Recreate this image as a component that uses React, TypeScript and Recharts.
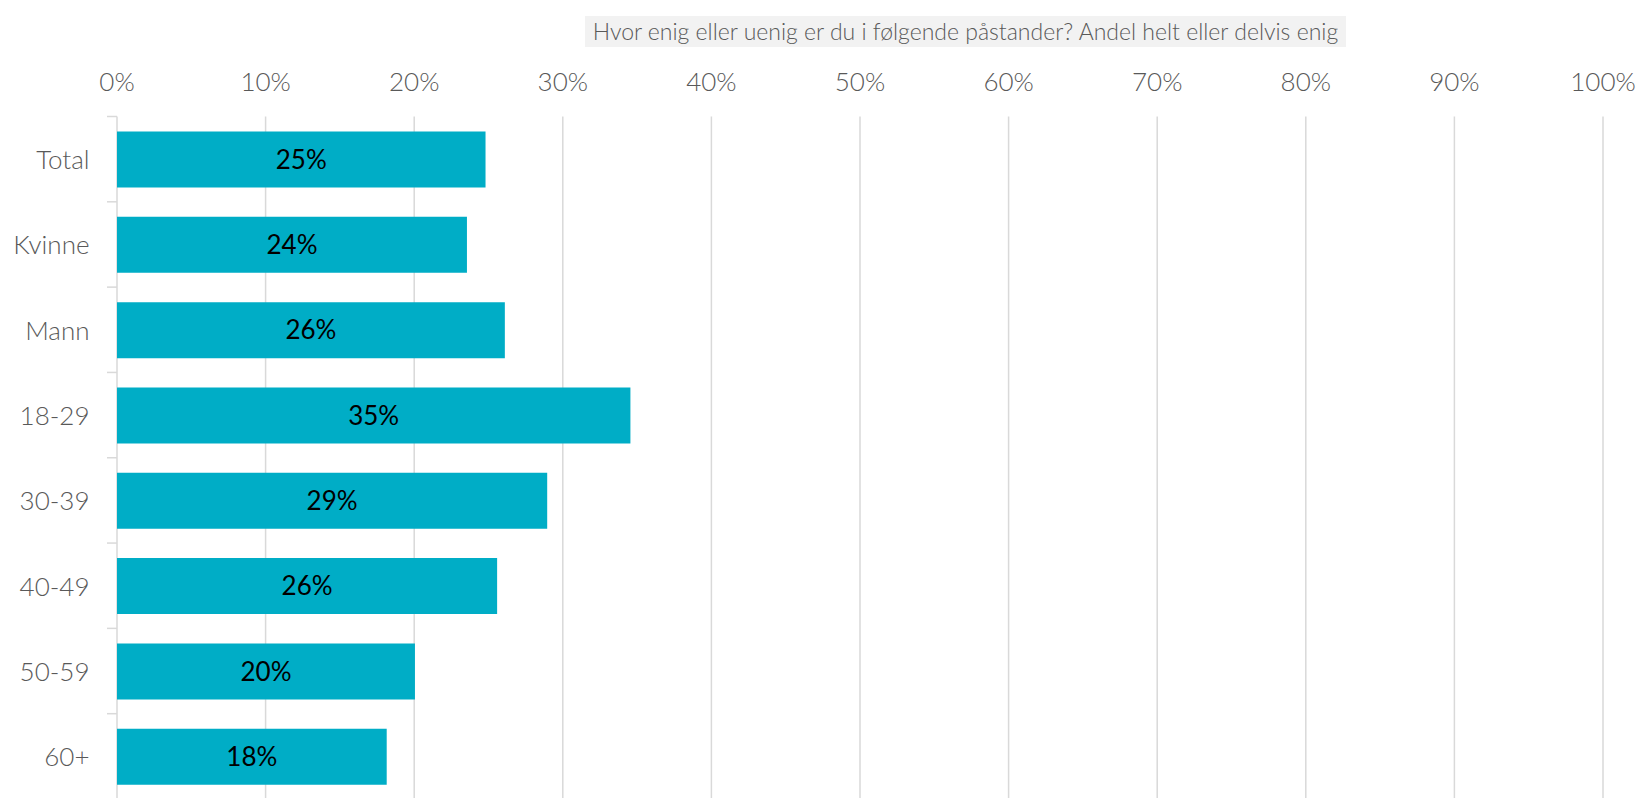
import React from 'react';
import { Bar, BarChart, CartesianGrid, LabelList, XAxis, YAxis } from 'recharts';

const categories = ['Total', 'Kvinne', 'Mann', '18-29', '30-39', '40-49', '50-59', '60+'];
const shares = [0.248, 0.2355, 0.261, 0.3455, 0.2895, 0.2558, 0.2005, 0.1815];
const xTicks = [0, 0.1, 0.2, 0.3, 0.4, 0.5, 0.6, 0.7, 0.8, 0.9, 1];
const title = 'Hvor enig eller uenig er du i følgende påstander? Andel helt eller delvis enig';

const data = categories.map((name, i) => ({ name, value: shares[i] }));

const WIDTH = 1636;
const HEIGHT = 800;
const PLOT_LEFT = 117;
const PLOT_TOP = 116.5;
const MARGIN_BOTTOM = 1;
const BAND = (HEIGHT - PLOT_TOP - MARGIN_BOTTOM) / categories.length;

const FONT = 'Lato, Carlito, Calibri, "Open Sans", sans-serif';
const GRAY = '#595959';
const GRID = '#d9d9d9';

const pct = (v: number) => `${Math.round(v * 100)}%`;

function CategoryTick(props: any) {
  const { x, y, payload, index } = props;
  const half = BAND / 2;
  return (
    <g>
      <text
        x={x - 27.5}
        y={y}
        textAnchor="end"
        dominantBaseline="central"
        fontFamily={FONT}
        fontWeight={300}
        fontSize={26}
        fill={GRAY}
      >
        {payload.value}
      </text>
      <line x1={PLOT_LEFT - 10} x2={PLOT_LEFT} y1={y - half} y2={y - half} stroke={GRID} strokeWidth={1.5} />
      {index === categories.length - 1 && (
        <line x1={PLOT_LEFT - 10} x2={PLOT_LEFT} y1={y + half} y2={y + half} stroke={GRID} strokeWidth={1.5} />
      )}
    </g>
  );
}

export default function App() {
  return (
    <div style={{ position: 'relative', width: WIDTH, height: 798, overflow: 'hidden', background: '#fff' }}>
      <style>{'body{margin:0;}'}</style>
      <div
        style={{
          position: 'absolute',
          left: 585,
          top: 16,
          width: 761,
          height: 31,
          background: '#f2f2f2',
          color: GRAY,
          fontFamily: FONT,
          fontWeight: 300,
          fontSize: 23,
          lineHeight: '31px',
          textAlign: 'center',
          whiteSpace: 'nowrap',
        }}
      >
        {title}
      </div>
      <BarChart
        width={WIDTH}
        height={HEIGHT}
        data={data}
        layout="vertical"
        margin={{ top: 0, right: WIDTH - 1603, left: 0, bottom: MARGIN_BOTTOM }}
      >
        <CartesianGrid horizontal={false} stroke={GRID} strokeWidth={1.5} />
        <XAxis
          type="number"
          orientation="top"
          domain={[0, 1]}
          ticks={xTicks}
          tickFormatter={pct}
          axisLine={false}
          tickLine={false}
          tickSize={0}
          tickMargin={26}
          height={PLOT_TOP}
          interval={0}
          tick={{ fontFamily: FONT, fontWeight: 300, fontSize: 26, fill: GRAY }}
        />
        <YAxis
          type="category"
          dataKey="name"
          width={PLOT_LEFT}
          axisLine={false}
          tickLine={false}
          tickSize={0}
          tickMargin={0}
          interval={0}
          tick={<CategoryTick />}
        />
        <Bar dataKey="value" fill="#00adc6" barSize={56} isAnimationActive={false}>
          <LabelList
            dataKey="value"
            position="center"
            formatter={(v: any) => pct(Number(v))}
            fill="#000"
            fontFamily={FONT}
            fontSize={26}
            fontWeight={400}
          />
        </Bar>
      </BarChart>
    </div>
  );
}
